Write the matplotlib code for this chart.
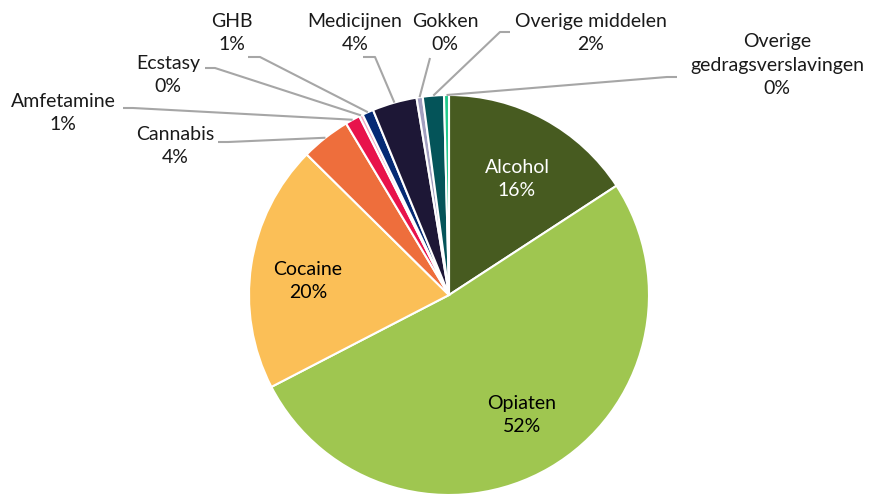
import matplotlib.pyplot as plt
import numpy as np

labels = ['Alcohol', 'Opiaten', 'Cocaine', 'Cannabis', 'Amfetamine', 'Ecstasy',
          'GHB', 'Medicijnen', 'Gokken', 'Overige middelen',
          'Overige\ngedragsverslavingen']
values = [15.8, 51.6, 20.0, 4.0, 1.2, 0.3, 0.9, 3.6, 0.5, 1.7, 0.4]
pct_labels = ['16%', '52%', '20%', '4%', '1%', '0%', '1%', '4%', '0%', '2%', '0%']
colors = ['#475B20', '#9FC650', '#FBBF57', '#EE6E3C', '#E8134B', '#F3A9C1',
          '#052A74', '#1D1736', '#A29FC0', '#045459', '#1FC98B']

W, H = 874, 494
cx, cy, R = 449, 295, 200

plt.rcParams['font.family'] = ['Lato', 'DejaVu Sans']
fig = plt.figure(figsize=(W / 100, H / 100), dpi=100)
ax = fig.add_axes([0, 0, 1, 1])
ax.axis('off')

ax.pie(values, colors=colors, startangle=90, counterclock=False,
       center=(cx, H - cy), radius=R,
       wedgeprops=dict(edgecolor='white', linewidth=1.5))
ax.set_xlim(0, W)
ax.set_ylim(0, H)
ax.set_aspect('equal')

# label positions (pixel coords: x, y of text centre)
inside = {0: (517, 179, 'white'), 1: (522, 415, 'black'), 2: (308, 281, 'black')}
outside = {
    3: (175, 146, (218, 228, 142)),
    4: (63, 113, (123, 133, 108)),
    5: (168, 75, (205, 215, 68)),
    6: (232, 33, (248, 260, 57)),
    7: (355, 33, (363, 375, 57)),
    8: (445, 33, (430, 430, 58)),
    9: (591, 33, (510, 500, 32)),
    10: (777, 65, (677, 667, 77)),
}

fs = 14
ls = 1.45
for i, (x, y, c) in inside.items():
    ax.text(x, H - y, labels[i] + '\n' + pct_labels[i], ha='center', va='center',
            fontsize=fs, color=c, linespacing=ls)

cum = np.cumsum(values) - np.array(values) / 2
total = sum(values)
for i, (x, y, (x0, x1, ly)) in outside.items():
    ax.text(x, H - y, labels[i] + '\n' + pct_labels[i], ha='center', va='center',
            fontsize=fs, color='#1A1A1A', linespacing=ls)
    ang = np.deg2rad(90 - 360 * cum[i] / total)
    ex = cx + R * np.cos(ang)
    ey = (H - cy) + R * np.sin(ang)
    ax.plot([x0, x1, ex], [H - ly, H - ly, ey], color='#A6A6A6', lw=1.5,
            solid_capstyle='butt')

fig.savefig('out.png', dpi=100)
